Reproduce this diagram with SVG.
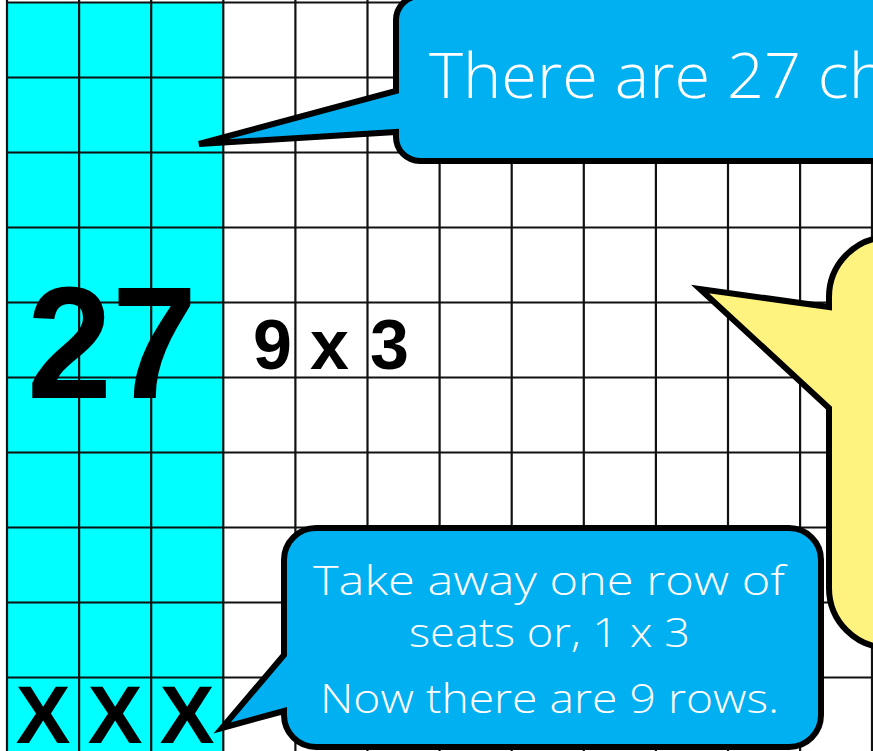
<svg xmlns="http://www.w3.org/2000/svg" width="873" height="751" viewBox="0 0 873 751">
<style>
.grid line{stroke:#111;stroke-width:2.2}
.bub{stroke:#000;stroke-width:6;stroke-linejoin:miter}
.blue{fill:#00B0F0}
.yel{fill:#FFF380}
.wt{fill:#fff;font-family:"Open Sans","Liberation Sans",sans-serif;font-weight:300}
.bk{fill:#000;font-family:"Liberation Sans",Arial,sans-serif;font-weight:bold}
</style>
<rect x="0" y="0" width="873" height="751" fill="#fff"/>
<g id="grid" class="grid">
<rect x="7" y="2.5" width="216.3" height="760" fill="#00FFFF"/>
<line x1="7" y1="0" x2="7" y2="751"/>
<line x1="79.1" y1="0" x2="79.1" y2="751"/>
<line x1="151.2" y1="0" x2="151.2" y2="751"/>
<line x1="223.3" y1="0" x2="223.3" y2="751"/>
<line x1="295.4" y1="0" x2="295.4" y2="751"/>
<line x1="367.5" y1="0" x2="367.5" y2="751"/>
<line x1="439.6" y1="0" x2="439.6" y2="751"/>
<line x1="511.7" y1="0" x2="511.7" y2="751"/>
<line x1="583.8" y1="0" x2="583.8" y2="751"/>
<line x1="655.9" y1="0" x2="655.9" y2="751"/>
<line x1="728" y1="0" x2="728" y2="751"/>
<line x1="800.1" y1="0" x2="800.1" y2="751"/>
<line x1="872" y1="0" x2="872" y2="751"/>
<line x1="7" y1="2.5" x2="873" y2="2.5"/>
<line x1="7" y1="77.5" x2="873" y2="77.5"/>
<line x1="7" y1="152.5" x2="873" y2="152.5"/>
<line x1="7" y1="227.5" x2="873" y2="227.5"/>
<line x1="7" y1="302.5" x2="873" y2="302.5"/>
<line x1="7" y1="377.5" x2="873" y2="377.5"/>
<line x1="7" y1="452.5" x2="873" y2="452.5"/>
<line x1="7" y1="527.5" x2="873" y2="527.5"/>
<line x1="7" y1="602.5" x2="873" y2="602.5"/>
<line x1="7" y1="677.5" x2="873" y2="677.5"/>
</g>
<g id="grid-labels">
<text class="bk" x="27" y="398" font-size="160" textLength="170" lengthAdjust="spacingAndGlyphs">27</text>
<text class="bk" x="253 290 310 350 370" y="369" font-size="70">9 x 3</text>
<text class="bk" x="43 115 187" y="743" font-size="82" text-anchor="middle">XXX</text>
</g>
<g id="bubble-top">
<path class="bub blue" d="M420,-4 H900 V161 H420 A24 24 0 0 1 396 137 V132 L199 144 L396 91 V20 A24 24 0 0 1 420 -4 Z"/>
<text class="wt" x="429" y="98" font-size="62" textLength="458" lengthAdjust="spacingAndGlyphs">There are 27 ch</text>
</g>
<g id="bubble-yellow">
<path class="bub yel" d="M829,297 A60 60 0 0 1 889 237 H950 V648 H889 A60 60 0 0 1 829 588 V408 L700 289 L829 307 Z"/>
</g>
<g id="bubble-bottom">
<path class="bub blue" d="M316,528 H789 A32 32 0 0 1 821 560 V715 A32 32 0 0 1 789 747 H316 A32 32 0 0 1 284 715 V711 L222 728 L284 655 V560 A32 32 0 0 1 316 528 Z"/>
<text class="wt" x="313" y="595" font-size="41" textLength="472" lengthAdjust="spacingAndGlyphs">Take away one row of</text>
<text class="wt" x="409" y="647" font-size="41" textLength="281" lengthAdjust="spacingAndGlyphs">seats or, 1 x 3</text>
<text class="wt" x="320" y="713" font-size="41" textLength="459" lengthAdjust="spacingAndGlyphs">Now there are 9 rows.</text>
</g>
</svg>
